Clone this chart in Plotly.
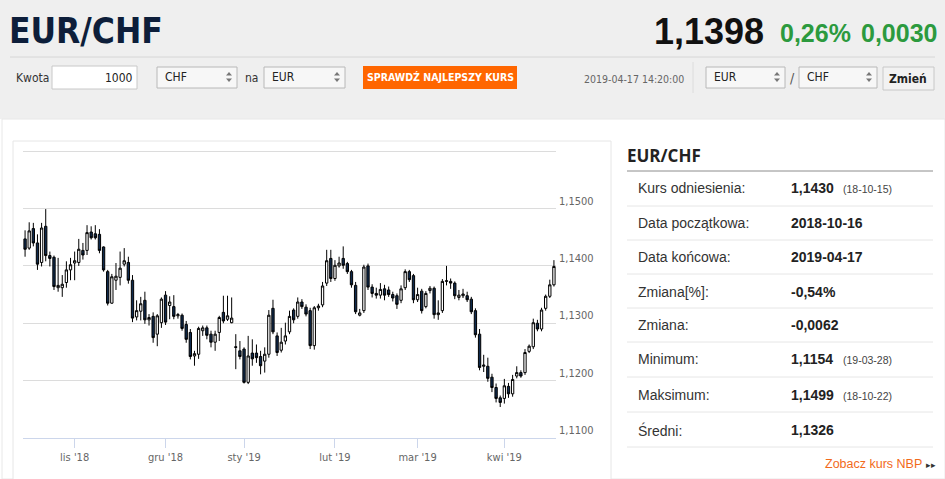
import pandas as pd
import plotly.graph_objects as go

# ---------------- data ----------------
start_date = "2018-10-16"
end_date = "2019-04-17"
holidays = ["2018-12-25", "2018-12-26", "2019-01-01"]

opens = [1.1447, 1.1431, 1.1465, 1.1440, 1.1406, 1.1469, 1.1418, 1.1415, 1.1362, 1.1362,
         1.1371, 1.1393, 1.1405, 1.1406, 1.1427, 1.1427, 1.1459, 1.1456, 1.1455, 1.1433,
         1.1390, 1.1335, 1.1375, 1.1380, 1.1403, 1.1406, 1.1375, 1.1311, 1.1321, 1.1340,
         1.1306, 1.1312,
         1.1281, 1.1301, 1.1349, 1.1331, 1.1329, 1.1313, 1.1314, 1.1298, 1.1284, 1.1243,
         1.1246, 1.1287, 1.1292, 1.1281, 1.1267, 1.1284, 1.1319, 1.1307, 1.1301, 1.1259,
         1.1252, 1.1255, 1.1197, 1.1248, 1.1248, 1.1242, 1.1234, 1.1246, 1.1326, 1.1278,
         1.1253, 1.1269, 1.1285,
         1.1323, 1.1312, 1.1337, 1.1328, 1.1322, 1.1261, 1.1327, 1.1332, 1.1370, 1.1413,
         1.1378, 1.1400, 1.1413, 1.1404, 1.1390, 1.1366, 1.1314, 1.1322, 1.1400, 1.1363,
         1.1352, 1.1349, 1.1360, 1.1358, 1.1350, 1.1348, 1.1340, 1.1362, 1.1390, 1.1383,
         1.1341, 1.1356, 1.1329,
         1.1357, 1.1361, 1.1315, 1.1322, 1.1373, 1.1373, 1.1370, 1.1345, 1.1348, 1.1348,
         1.1342, 1.1322, 1.1281, 1.1225, 1.1225, 1.1206, 1.1188, 1.1170, 1.1169, 1.1190,
         1.1177, 1.1208, 1.1214, 1.1214, 1.1251, 1.1259, 1.1300, 1.1290, 1.1326, 1.1347,
         1.1367]
highs = [1.1462, 1.1476, 1.1475, 1.1455, 1.1475, 1.1499, 1.1425, 1.1418, 1.1414, 1.1384,
         1.1408, 1.1414, 1.1425, 1.1447, 1.1440, 1.1471, 1.1469, 1.1471, 1.1464, 1.1434,
         1.1393, 1.1386, 1.1405, 1.1425, 1.1431, 1.1416, 1.1384, 1.1340, 1.1346, 1.1355,
         1.1316, 1.1319,
         1.1316, 1.1345, 1.1356, 1.1347, 1.1349, 1.1318, 1.1317, 1.1304, 1.1290, 1.1252,
         1.1294, 1.1296, 1.1296, 1.1287, 1.1287, 1.1313, 1.1348, 1.1348, 1.1345, 1.1281,
         1.1269, 1.1258, 1.1278, 1.1272, 1.1263, 1.1252, 1.1258, 1.1323, 1.1341, 1.1284,
         1.1292, 1.1301, 1.1322,
         1.1326, 1.1345, 1.1342, 1.1333, 1.1327, 1.1330, 1.1334, 1.1372, 1.1428, 1.1428,
         1.1410, 1.1416, 1.1434, 1.1407, 1.1393, 1.1372, 1.1325, 1.1402, 1.1404, 1.1368,
         1.1362, 1.1370, 1.1367, 1.1364, 1.1355, 1.1352, 1.1366, 1.1394, 1.1393, 1.1386,
         1.1362, 1.1360, 1.1356,
         1.1365, 1.1364, 1.1340, 1.1377, 1.1400, 1.1378, 1.1373, 1.1358, 1.1360, 1.1355,
         1.1346, 1.1326, 1.1290, 1.1245, 1.1240, 1.1212, 1.1195, 1.1174, 1.1203, 1.1196,
         1.1210, 1.1225, 1.1218, 1.1255, 1.1263, 1.1308, 1.1306, 1.1327, 1.1350, 1.1376,
         1.1410]
lows = [1.1416, 1.1428, 1.1434, 1.1393, 1.1399, 1.1408, 1.1399, 1.1358, 1.1355, 1.1346,
        1.1362, 1.1375, 1.1375, 1.1400, 1.1411, 1.1419, 1.1446, 1.1446, 1.1422, 1.1390,
        1.1331, 1.1334, 1.1358, 1.1366, 1.1399, 1.1369, 1.1302, 1.1305, 1.1305, 1.1299,
        1.1296, 1.1266,
        1.1260, 1.1292, 1.1297, 1.1307, 1.1307, 1.1308, 1.1287, 1.1266, 1.1237, 1.1226,
        1.1238, 1.1278, 1.1272, 1.1258, 1.1252, 1.1269, 1.1300, 1.1304, 1.1300, 1.1220,
        1.1237, 1.1195, 1.1194, 1.1226, 1.1231, 1.1211, 1.1214, 1.1240, 1.1281, 1.1243,
        1.1249, 1.1263, 1.1281,
        1.1300, 1.1308, 1.1325, 1.1312, 1.1255, 1.1254, 1.1322, 1.1328, 1.1365, 1.1372,
        1.1374, 1.1397, 1.1395, 1.1386, 1.1362, 1.1316, 1.1312, 1.1318, 1.1358, 1.1345,
        1.1343, 1.1343, 1.1340, 1.1346, 1.1338, 1.1325, 1.1335, 1.1358, 1.1372, 1.1335,
        1.1337, 1.1317, 1.1326,
        1.1352, 1.1308, 1.1306, 1.1318, 1.1366, 1.1360, 1.1342, 1.1340, 1.1344, 1.1337,
        1.1316, 1.1275, 1.1218, 1.1215, 1.1198, 1.1180, 1.1162, 1.1154, 1.1160, 1.1170,
        1.1172, 1.1204, 1.1205, 1.1210, 1.1248, 1.1255, 1.1286, 1.1286, 1.1322, 1.1344,
        1.1364]
closes = [1.1429, 1.1461, 1.1440, 1.1403, 1.1466, 1.1418, 1.1413, 1.1364, 1.1366, 1.1368,
          1.1393, 1.1402, 1.1409, 1.1429, 1.1419, 1.1458, 1.1449, 1.1449, 1.1427, 1.1393,
          1.1335, 1.1381, 1.1382, 1.1396, 1.1409, 1.1375, 1.1309, 1.1322, 1.1334, 1.1306,
          1.1310, 1.1275,
          1.1313, 1.1342, 1.1302, 1.1337, 1.1312, 1.1315, 1.1291, 1.1272, 1.1242, 1.1247,
          1.1291, 1.1292, 1.1279, 1.1267, 1.1281, 1.1310, 1.1304, 1.1313, 1.1309, 1.1258,
          1.1242, 1.1197, 1.1243, 1.1238, 1.1240, 1.1226, 1.1246, 1.1314, 1.1285, 1.1249,
          1.1267, 1.1278, 1.1312,
          1.1306, 1.1337, 1.1329, 1.1316, 1.1261, 1.1327, 1.1330, 1.1365, 1.1409, 1.1378,
          1.1401, 1.1405, 1.1401, 1.1390, 1.1367, 1.1320, 1.1318, 1.1398, 1.1363, 1.1352,
          1.1349, 1.1359, 1.1349, 1.1350, 1.1344, 1.1333, 1.1360, 1.1390, 1.1376, 1.1341,
          1.1350, 1.1322, 1.1352,
          1.1361, 1.1315, 1.1318, 1.1373, 1.1374, 1.1370, 1.1348, 1.1349, 1.1351, 1.1341,
          1.1320, 1.1280, 1.1223, 1.1227, 1.1204, 1.1188, 1.1169, 1.1162, 1.1191, 1.1177,
          1.1202, 1.1214, 1.1208, 1.1249, 1.1260, 1.1301, 1.1290, 1.1323, 1.1347, 1.1367,
          1.1399]

month_ticks = ["2018-11-01", "2018-12-03", "2019-01-02", "2019-02-01", "2019-03-01", "2019-04-01"]
month_labels = ["lis '18", "gru '18", "sty '19", "lut '19", "mar '19", "kwi '19"]
y_ticks = [1.11, 1.12, 1.13, 1.14, 1.15, 1.16]
y_labels = ["1,1100", "1,1200", "1,1300", "1,1400", "1,1500", ""]

pair = "EUR/CHF"
last_rate = "1,1398"
change_pct = "0,26%"
change_abs = "0,0030"
timestamp = "2019-04-17 14:20:00"
stats_labels = ["Kurs odniesienia:", "Data początkowa:", "Data końcowa:", "Zmiana[%]:",
                "Zmiana:", "Minimum:", "Maksimum:", "Średni:"]
stats_values = ["1,1430", "2018-10-16", "2019-04-17", "-0,54%", "-0,0062", "1,1154", "1,1499", "1,1326"]
stats_notes = ["(18-10-15)", "", "", "", "", "(19-03-28)", "(18-10-22)", ""]

# ---------------- figure ----------------
dates = [d.strftime("%Y-%m-%d") for d in pd.bdate_range(start_date, end_date)
         if d.strftime("%Y-%m-%d") not in holidays]

W, H = 945, 479
def px(x):
    return x / W
def py(y):
    return 1 - y / H

fig = go.Figure()
fig.add_trace(go.Candlestick(
    x=dates, open=opens, high=highs, low=lows, close=closes,
    increasing=dict(fillcolor="#ffffff", line=dict(color="#000000", width=1)),
    decreasing=dict(fillcolor="#0f2a4d", line=dict(color="#000000", width=1)),
    hoverinfo="skip", showlegend=False,
))

shapes = []
ann = []

def rect(x0, y0, x1, y1, fill, line=None, lw=1, layer="below"):
    shapes.append(dict(type="rect", xref="paper", yref="paper",
                       x0=px(x0), x1=px(x1), y0=py(y1), y1=py(y0),
                       fillcolor=fill, line=dict(color=line or fill, width=lw if line else 0),
                       layer=layer))

def hline(x0, x1, y, color, lw=1):
    shapes.append(dict(type="line", xref="paper", yref="paper",
                       x0=px(x0), x1=px(x1), y0=py(y), y1=py(y),
                       line=dict(color=color, width=lw), layer="below"))

def vline(x, y0, y1, color, lw=1):
    shapes.append(dict(type="line", xref="paper", yref="paper",
                       x0=px(x), x1=px(x), y0=py(y0), y1=py(y1),
                       line=dict(color=color, width=lw), layer="below"))

def text(x, y, s, size, color, anchor="left", family="Liberation Sans, Arial, sans-serif"):
    ann.append(dict(xref="paper", yref="paper", x=px(x), y=py(y), text=s, showarrow=False,
                    xanchor=anchor, yanchor="middle", borderpad=0,
                    font=dict(size=size, color=color, family=family)))

def arrows(x, y):
    shapes.append(dict(type="path", xref="paper", yref="paper",
                       path=f"M {px(x-3)} {py(y-1.5)} L {px(x+3)} {py(y-1.5)} L {px(x)} {py(y-5)} Z",
                       fillcolor="#777", line=dict(width=0), layer="above"))
    shapes.append(dict(type="path", xref="paper", yref="paper",
                       path=f"M {px(x-3)} {py(y+1.5)} L {px(x+3)} {py(y+1.5)} L {px(x)} {py(y+5)} Z",
                       fillcolor="#777", line=dict(width=0), layer="above"))

NARROW = "Liberation Sans Narrow, DejaVu Sans Condensed, Arial Narrow, sans-serif"

# header background
rect(0, 0, 945, 119, "#efefef")
hline(10, 935, 57, "#d6d6d6")
rect(2, 119, 945, 479, "#ffffff", "#e8e8e8")
# chart box
rect(13, 141, 611, 485, "#ffffff", "#e6e6e6")

# title + rates
text(8, 31, f"<b>{pair}</b>", 35, "#0d1e3a", family=NARROW)
text(653, 31, f"<b>{last_rate}</b>", 36, "#111111")
text(779, 33, f"<b>{change_pct}</b>", 25, "#2c9a3e")
text(860, 33, f"<b>{change_abs}</b>", 25, "#2c9a3e")

# form row
text(15, 78, "Kwota", 12, "#333", family=NARROW)
rect(52, 66, 137, 89, "#ffffff", "#c8c8c8")
text(134, 78, "1000", 12, "#222", anchor="right", family=NARROW)
rect(157, 67, 237, 88, "#f7f7f7", "#b8b8b8")
text(164, 77, "CHF", 12, "#222", family=NARROW)
arrows(229, 77)
text(244, 78, "na", 12, "#333", family=NARROW)
rect(264, 67, 345, 88, "#f7f7f7", "#b8b8b8")
text(271, 77, "EUR", 12, "#222", family=NARROW)
arrows(337, 77)
rect(363, 66, 517, 89, "#ff6600")
text(440, 77, "<b>SPRAWDŹ NAJLEPSZY KURS</b>", 10.5, "#ffffff", anchor="center", family=NARROW)
text(634, 79, timestamp, 10.5, "#666", anchor="center", family=NARROW)
vline(693, 62, 93, "#dcdcdc")
rect(706, 67, 785, 88, "#f7f7f7", "#b8b8b8")
text(713, 77, "EUR", 12, "#222", family=NARROW)
arrows(777, 77)
text(792, 78, "/", 14, "#555", anchor="center", family=NARROW)
rect(799, 67, 877, 88, "#f7f7f7", "#b8b8b8")
text(806, 77, "CHF", 12, "#222", family=NARROW)
arrows(869, 77)
rect(883, 67, 934, 90, "#f2f2f2", "#c8c8c8")
text(908, 79, "<b>Zmień</b>", 12, "#222", anchor="center", family=NARROW)

# right panel
text(626, 155, f"<b>{pair}</b>", 17, "#222", family="Open Sans, sans-serif")
hline(627, 933, 171, "#8c8c8c")
row_y = [188, 223, 257, 292, 325, 359, 395, 430]
sep_y = [206, 240, 274, 308, 342, 377, 412, 447]
for i, lab in enumerate(stats_labels):
    text(637, row_y[i], lab, 14, "#333")
    text(790, row_y[i], f"<b>{stats_values[i]}</b>", 14, "#222")
    if stats_notes[i]:
        text(842, row_y[i] + 1, stats_notes[i], 10.5, "#444")
for y in sep_y:
    hline(627, 933, y, "#e6e6e6")
text(923, 464, "Zobacz kurs NBP", 12.5, "#f26a1b", anchor="right")
text(925, 465, "▸▸", 9, "#333")

fig.update_layout(
    width=W, height=H,
    margin=dict(l=0, r=0, t=0, b=0),
    paper_bgcolor="#ffffff", plot_bgcolor="rgba(0,0,0,0)",
    separators=", ",
    shapes=shapes, annotations=ann,
    showlegend=False, hovermode=False,
    boxgap=0.2,
    xaxis=dict(
        type="category", domain=[px(23), px(556)], range=[-0.5, len(dates) - 0.5],
        rangeslider=dict(visible=False),
        showgrid=False, showline=True, linecolor="#ccd6eb", linewidth=1,
        ticks="outside", ticklen=9, tickcolor="#ccd6eb",
        tickmode="array", tickvals=month_ticks, ticktext=month_labels,
        tickfont=dict(size=11, color="#666666", family=NARROW),
        zeroline=False, fixedrange=True,
    ),
    yaxis=dict(
        side="right", domain=[py(438), py(150)], range=[1.11, 1.1602],
        tickmode="array", tickvals=y_ticks, ticktext=y_labels,
        showgrid=True, gridcolor="#dcdcdc", gridwidth=1,
        ticks="", ticklabelposition="outside top", ticklabelstandoff=2,
        tickfont=dict(size=11, color="#666666", family=NARROW),
        zeroline=False, showline=False, fixedrange=True,
    ),
)

fig.write_html("out.html", config={"displayModeBar": False},
               post_script="document.body.style.margin='0';document.body.style.overflow='hidden';")
